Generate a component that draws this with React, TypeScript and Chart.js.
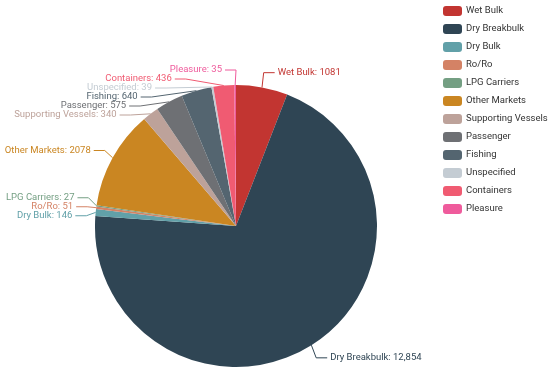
import React, { useEffect, useRef } from "react";
import { Chart, registerables } from "chart.js";

Chart.register(...registerables);

const categories = [
  "Wet Bulk",
  "Dry Breakbulk",
  "Dry Bulk",
  "Ro/Ro",
  "LPG Carriers",
  "Other Markets",
  "Supporting Vessels",
  "Passenger",
  "Fishing",
  "Unspecified",
  "Containers",
  "Pleasure",
];
const values = [1081, 12854, 146, 51, 27, 2078, 340, 575, 640, 39, 436, 35];
const valueLabels = ["1081", "12,854", "146", "51", "27", "2078", "340", "575", "640", "39", "436", "35"];
const colors = [
  "#c23531",
  "#2f4554",
  "#61a0a8",
  "#d48265",
  "#749f83",
  "#ca8622",
  "#bda29a",
  "#6e7074",
  "#546570",
  "#c4ccd3",
  "#f05b72",
  "#ef5b9c",
];

const FONT = '9.5px Roboto, "Liberation Sans", Arial, sans-serif';

const outsideLabels = {
  id: "outsideLabels",
  afterDatasetsDraw(chart: any) {
    const ctx = chart.ctx as CanvasRenderingContext2D;
    const meta = chart.getDatasetMeta(0);
    const L1 = 15;
    const L1X = 9;
    const L2 = 11;
    const GAP = 3;
    const SP = 9;
    const items = meta.data.map((arc: any, i: number) => {
      const p = arc.getProps(["x", "y", "outerRadius", "startAngle", "endAngle"], true);
      const mid = (p.startAngle + p.endAngle) / 2;
      const c = Math.cos(mid);
      const s = Math.sin(mid);
      return {
        i,
        cx: p.x,
        cy: p.y,
        r: p.outerRadius,
        ex: p.x + c * p.outerRadius,
        ey: p.y + s * p.outerRadius,
        ny: p.y + s * (p.outerRadius + L1),
        right: c >= 0,
        ly: 0,
      };
    });
    if (!items.length) return;
    const cx = items[0].cx;
    const cy = items[0].cy;
    const rB = items[0].r + L1;
    const rA = items[0].r + L1X;
    const minY = cy - rB;
    const maxY = Math.min(cy + rB, chart.height - 8);

    [true, false].forEach((side) => {
      const list = items.filter((it: any) => it.right === side).sort((a: any, b: any) => a.ny - b.ny);
      let clusters = list.map((it: any) => ({ items: [it], top: it.ny }));
      const fit = (cl: any) => {
        const n = cl.items.length;
        const mean = cl.items.reduce((a: number, it: any) => a + it.ny, 0) / n;
        let top = mean - ((n - 1) * SP) / 2;
        if (top < minY) top = minY;
        if (top + (n - 1) * SP > maxY) top = maxY - (n - 1) * SP;
        cl.top = top;
      };
      clusters.forEach(fit);
      let merged = true;
      while (merged) {
        merged = false;
        for (let j = 1; j < clusters.length; j++) {
          const prev = clusters[j - 1];
          const cur = clusters[j];
          if (cur.top < prev.top + prev.items.length * SP) {
            prev.items = prev.items.concat(cur.items);
            clusters.splice(j, 1);
            fit(prev);
            merged = true;
            break;
          }
        }
      }
      clusters.forEach((cl: any) => {
        cl.items.forEach((it: any, k: number) => {
          it.ly = cl.top + k * SP;
        });
      });
    });

    ctx.save();
    ctx.font = FONT;
    ctx.lineWidth = 1;
    ctx.textBaseline = "middle";
    items.forEach((it: any) => {
      const dir = it.right ? 1 : -1;
      const dy = it.ly - cy;
      const dx = rA * Math.sqrt(Math.max(0, 1 - (dy * dy) / (rB * rB)));
      const elx = cx + dir * dx;
      const col = colors[it.i];
      ctx.strokeStyle = col;
      ctx.beginPath();
      ctx.moveTo(it.ex, it.ey);
      ctx.lineTo(elx, it.ly);
      ctx.lineTo(elx + dir * L2, it.ly);
      ctx.stroke();
      ctx.fillStyle = col;
      ctx.textAlign = it.right ? "left" : "right";
      ctx.fillText(categories[it.i] + ": " + valueLabels[it.i], elx + dir * (L2 + GAP), it.ly);
    });
    ctx.restore();
  },
};

const customLegend = {
  id: "customLegend",
  afterDraw(chart: any) {
    const ctx = chart.ctx as CanvasRenderingContext2D;
    ctx.save();
    ctx.font = FONT;
    ctx.textBaseline = "middle";
    ctx.textAlign = "left";
    categories.forEach((name, i) => {
      const y = 6 + 18 * i;
      ctx.fillStyle = colors[i];
      ctx.beginPath();
      (ctx as any).roundRect(443, y, 19, 10, 3);
      ctx.fill();
      ctx.fillStyle = "#333";
      ctx.fillText(name, 466, y + 5);
    });
    ctx.restore();
  },
};

export default function App() {
  const ref = useRef<HTMLCanvasElement>(null);
  useEffect(() => {
    document.body.style.margin = "0";
    const chart = new Chart(ref.current as HTMLCanvasElement, {
      type: "pie",
      data: {
        labels: categories,
        datasets: [
          {
            data: values,
            backgroundColor: colors,
            borderWidth: 0,
          },
        ],
      },
      options: {
        animation: false,
        responsive: false,
        devicePixelRatio: 1,
        layout: { padding: { left: 95, top: 85, right: 173, bottom: 4 } },
        plugins: {
          legend: { display: false },
          tooltip: { enabled: false },
        },
      },
      plugins: [outsideLabels, customLegend],
    } as any);
    return () => chart.destroy();
  }, []);
  return (
    <div style={{ position: "absolute", left: 0, top: 0, width: 550, height: 371, background: "#fff" }}>
      <canvas ref={ref} width={550} height={371} style={{ width: 550, height: 371, display: "block" }} />
    </div>
  );
}
